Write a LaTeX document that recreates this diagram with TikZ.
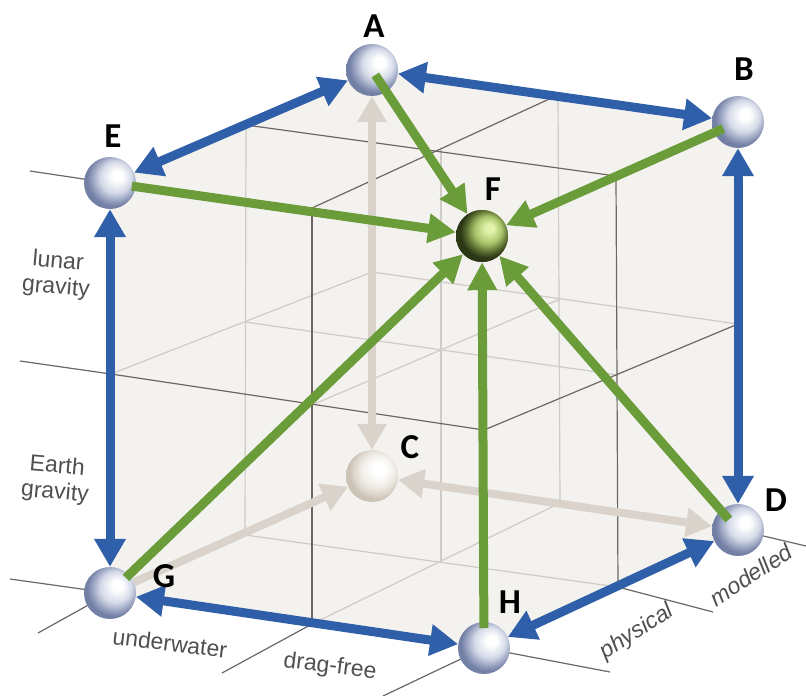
\documentclass[tikz,border=0pt]{standalone}
\usepackage{fontspec}
\setmainfont{Liberation Sans}
\newfontfamily\lblfont{Carlito}
\usetikzlibrary{arrows.meta}

\definecolor{cubefill}{HTML}{F4F2EF}
\definecolor{gdark}{HTML}{6E6666}
\definecolor{glight}{HTML}{CFCBC6}
\definecolor{bluearr}{HTML}{2F5FA8}
\definecolor{greenarr}{HTML}{6A9C3A}
\definecolor{grayarr}{HTML}{D9D3CB}
\definecolor{axistext}{HTML}{505050}
\definecolor{sbA}{HTML}{FFFFFF}
\definecolor{sbB}{HTML}{D5DAE8}
\definecolor{sbC}{HTML}{8C97B8}
\definecolor{sbD}{HTML}{7380A5}
\definecolor{sgA}{HTML}{E2F2AA}
\definecolor{sgB}{HTML}{A8C46A}
\definecolor{sgC}{HTML}{5A6E30}
\definecolor{sgD}{HTML}{2C3716}
\definecolor{scA}{HTML}{FFFFFF}
\definecolor{scB}{HTML}{F2EFEA}
\definecolor{scC}{HTML}{DDD7CD}
\definecolor{scD}{HTML}{CBC3B6}

\pgfdeclareradialshading{sphblue}{\pgfpoint{8bp}{8bp}}{color(0bp)=(sbA); color(5bp)=(sbA); color(15bp)=(sbB); color(23bp)=(sbC); color(26bp)=(sbD); color(50bp)=(sbD)}
\pgfdeclareradialshading{sphgreen}{\pgfpoint{8bp}{8bp}}{color(0bp)=(sgA); color(4bp)=(sgA); color(13bp)=(sgB); color(20bp)=(sgC); color(25bp)=(sgD); color(50bp)=(sgD)}
\pgfdeclareradialshading{sphgray}{\pgfpoint{8bp}{8bp}}{color(0bp)=(scA); color(6bp)=(scA); color(15bp)=(scB); color(22bp)=(scC); color(26bp)=(scD); color(50bp)=(scD)}

\tikzset{
  sphere/.style={circle, minimum size=52pt, inner sep=0pt, shade, shading=sphblue},
  spheregreen/.style={sphere, shading=sphgreen},
  spheregray/.style={sphere, shading=sphgray},
  griddark/.style={draw=gdark, line width=1.2pt},
  gridlight/.style={draw=glight, line width=1.2pt},
  bluedbl/.style={draw=bluearr, line width=9pt, {Triangle[length=28pt,width=30pt]}-{Triangle[length=28pt,width=30pt]}},
  greenone/.style={draw=greenarr, line width=9pt, -{Triangle[length=28pt,width=28pt]}},
  graydbl/.style={draw=grayarr, line width=8pt, {Triangle[length=26pt,width=28pt]}-{Triangle[length=26pt,width=28pt]}},
  grayone/.style={draw=grayarr, line width=8pt, -{Triangle[length=26pt,width=28pt]}},
  letter/.style={font=\lblfont\bfseries\fontsize{35}{35}\selectfont, text=black, inner sep=0pt},
  axislbl/.style={font=\fontsize{23}{26}\selectfont, text=axistext, align=center, inner sep=0pt}
}

\begin{document}
\begin{tikzpicture}[x=1pt,y=-1pt]
\useasboundingbox (0,0) rectangle (806,696);
\fill[white] (0,0) rectangle (806,696);

% corners
\coordinate (g000) at (110,183);
\coordinate (g200) at (482,236);
\coordinate (g020) at (372,70);
\coordinate (g220) at (738,122);
\coordinate (g002) at (110,593);
\coordinate (g202) at (484,648);
\coordinate (g022) at (372,476);
\coordinate (g222) at (738,530);
% grid points
\coordinate (g100) at (312,208);
\coordinate (g010) at (246,125);
\coordinate (g210) at (616,176);
\coordinate (g120) at (558,95);
\coordinate (g110) at (441,150);
\coordinate (g001) at (111,374);
\coordinate (g201) at (484,430);
\coordinate (g021) at (372,272);
\coordinate (g221) at (738,324);
\coordinate (g101) at (312,405);
\coordinate (g011) at (245,322);
\coordinate (g211) at (618,375);
\coordinate (g121) at (560,299);
\coordinate (g111) at (442,350);
\coordinate (g102) at (312,624);
\coordinate (g012) at (245,535);
\coordinate (g122) at (560,503);
\coordinate (g212) at (618,587);
\coordinate (g112) at (441,563);
% tick ends
\coordinate (t1) at (30,171);
\coordinate (t2) at (20,361);
\coordinate (t3) at (10,579);
\coordinate (t4) at (38,633);
\coordinate (t5) at (222,673);
\coordinate (t6) at (383,696);
\coordinate (t7) at (610,672);
\coordinate (t8) at (713,612);
\coordinate (t9) at (806,546);

% cube background
\fill[cubefill] (g000) -- (g020) -- (g220) -- (g222) -- (g202) -- (g002) -- cycle;

% light grid
\draw[gridlight] (g011) -- (g211);
\draw[gridlight] (g012) -- (g212);
\draw[gridlight] (g021) -- (g221);
\draw[gridlight] (g001) -- (g021);
\draw[gridlight] (g101) -- (g121);
\draw[gridlight] (g102) -- (g122);
\draw[gridlight] (g010) -- (g012);
\draw[gridlight] (g110) -- (g112);
\draw[gridlight] (g120) -- (g122);
% dark grid
\draw[griddark] (t2) -- (g001) -- (g201);
\draw[griddark] (g010) -- (g210);
\draw[griddark] (g100) -- (g120);
\draw[griddark] (g201) -- (g221);
\draw[griddark] (g100) -- (g102);
\draw[griddark] (g210) -- (g212);
\draw[griddark] (t1) -- (g000);
\draw[griddark] (t3) -- (g002);
\draw[griddark] (t4) -- (g002);
\draw[griddark] (t5) -- (g102);
\draw[griddark] (t6) -- (g202);
\draw[griddark] (g202) -- (t7);
\draw[griddark] (g212) -- (t8);
\draw[griddark] (g222) -- (t9);

% spheres
\node[spheregray] (C) at (g022) {};
\node[sphere] (A) at (g020) {};
\node[sphere] (B) at (g220) {};
\node[sphere] (E) at (g000) {};
\node[sphere] (G) at (g002) {};
\node[sphere] (H) at (g202) {};
\node[sphere] (D) at (g222) {};

% gray arrows
\draw[graydbl] (A) -- (C);
\draw[grayone] (G) -- (C);
\draw[graydbl] (C) -- (D);

% blue arrows
\draw[bluedbl] (E) -- (A);
\draw[bluedbl] (A) -- (B);
\draw[bluedbl] (B) -- (D);
\draw[bluedbl] (E) -- (G);
\draw[bluedbl] (G) -- (H);
\draw[bluedbl] (H) -- (D);

% F sphere node (for borders), green arrows, then draw F on top
\node[spheregreen] (F) at (g200) {};
\draw[greenone, shorten <=22pt] (E.center) -- (F);
\draw[greenone, shorten <=6pt] (A.center) -- (F);
\draw[greenone, shorten <=16pt] (B.center) -- (F);
\draw[greenone, shorten <=22pt] (G.center) -- (F);
\draw[greenone, shorten <=20pt] (H.center) -- (F);
\draw[greenone, shorten <=14pt] (D.center) -- (F);
\node[spheregreen] at (g200) {};

% letters
\node[letter] (lA) at (374,26) {A};
\node[letter] (lB) at (744,69) {B};
\node[letter] (lE) at (113,136) {E};
\node[letter] (lF) at (493,189) {F};
\node[letter] (lC) at (410,447) {C};
\node[letter] (lD) at (776,500) {D};
\node[letter] (lG) at (164,576) {G};
\node[letter] (lH) at (510,602) {H};

% axis labels
\node[axislbl, rotate=-5] (lunar) at (57,275) {lunar\\gravity};
\node[axislbl, rotate=-5] (earth) at (56,480) {Earth\\gravity};
\node[axislbl, rotate=-7] (under) at (170,643) {underwater};
\node[axislbl, rotate=-7] (drag) at (330,667) {drag-free};
\node[axislbl, rotate=33, font=\itshape\fontsize{23}{26}\selectfont] (phys) at (637,632) {physical};
\node[axislbl, rotate=33, font=\itshape\fontsize{23}{26}\selectfont] (model) at (751,575) {modelled};
\end{tikzpicture}
\end{document}
